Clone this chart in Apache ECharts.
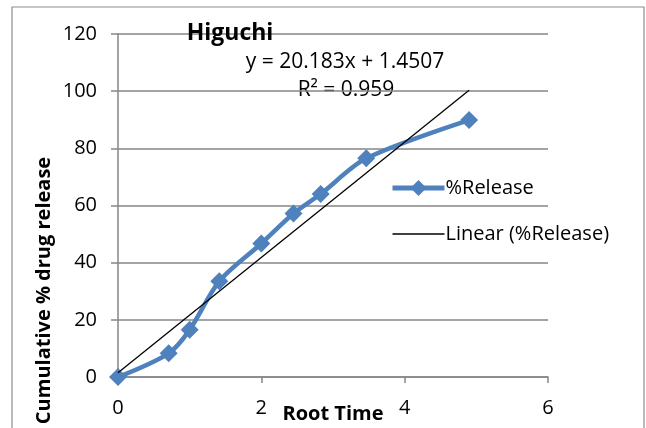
<!DOCTYPE html>
<html><head><meta charset="utf-8">
<script src="https://cdn.jsdelivr.net/npm/echarts@6/dist/echarts.min.js"></script>
<style>html,body{margin:0;padding:0;background:#fff}#c{width:646px;height:428px}</style>
</head><body><div id="c"></div>
<script>
var rootTime = [0, 0.707, 1.0, 1.414, 2.0, 2.449, 2.828, 3.464, 4.899];
var release = [0, 8.3, 16.5, 33.5, 46.7, 57.2, 64.0, 76.5, 89.9];
var slope = 20.183, intercept = 1.4507;
var trendX = [0, 4.899];
var xTicks = [0, 2, 4, 6];
var yTicks = [0, 20, 40, 60, 80, 100, 120];

var FONT = '"Open Sans", Lato, sans-serif';
var chart = echarts.init(document.getElementById('c'));
chart.setOption({
  animation: false,
  backgroundColor: '#fff',
  textStyle: {fontFamily: FONT},
  grid: {left: 118, right: 98, top: 34, bottom: 51, containLabel: false, outerBoundsMode: 'none'},
  title: {text: 'Higuchi', left: 225, top: 17, textAlign: 'center',
    textStyle: {fontFamily: FONT, fontWeight: 'bold', fontSize: 23, color: '#000'}},
  legend: {
    orient: 'vertical', left: 385, top: 173, itemGap: 26,
    itemWidth: 52, itemHeight: 20, symbolKeepAspect: true,
    textStyle: {fontFamily: FONT, fontSize: 20, color: '#000', padding: [0,0,0,-4]},
    data: [
      {name: '%Release', lineStyle: {width: 5, color: '#4F81BD'}},
      {name: 'Linear (%Release)', icon: 'path://M0,0L52,0L52,1.4L0,1.4Z', itemStyle: {color: '#000'}}
    ]
  },
  xAxis: {
    type: 'value', min: xTicks[0], max: xTicks[xTicks.length-1], interval: 2,
    name: 'Root Time', nameLocation: 'middle', nameGap: 27, nameMoveOverlap: false,
    nameTextStyle: {fontFamily: FONT, fontWeight: 'bold', fontSize: 20, color: '#000'},
    axisLine: {lineStyle: {color: '#868686', width: 1.5}},
    axisTick: {show: true, length: 6, lineStyle: {color: '#868686', width: 1.5}},
    axisLabel: {margin: 21, fontFamily: FONT, fontSize: 20, color: '#000'},
    splitLine: {show: false}
  },
  yAxis: {
    type: 'value', min: yTicks[0], max: yTicks[yTicks.length-1], interval: 20,
    name: 'Cumulative % drug release', nameLocation: 'middle', nameGap: 64, nameRotate: 90, nameMoveOverlap: false,
    nameTextStyle: {fontFamily: FONT, fontWeight: 'bold', fontSize: 20, color: '#000', padding: [0,0,0,-170]},
    axisLine: {show: true, lineStyle: {color: '#868686', width: 1.5}},
    axisTick: {show: true, length: 7, lineStyle: {color: '#868686', width: 1.5}},
    axisLabel: {margin: 21, fontFamily: FONT, fontSize: 20, color: '#000'},
    splitLine: {show: true, lineStyle: {color: '#868686', width: 1.5}}
  },
  graphic: [
    {type: 'rect', shape: {x: 12, y: 7, width: 632, height: 430}, style: {fill: 'none', stroke: '#8c8c8c', lineWidth: 1.2}, z: -1},
    {type: 'text', x: 345, y: 62, style: {text: 'y = 20.183x + 1.4507', font: '21px ' + FONT, fill: '#000', align: 'center', verticalAlign: 'middle'}},
    {type: 'text', x: 346, y: 90, style: {text: 'R² = 0.959', font: '21px ' + FONT, fill: '#000', align: 'center', verticalAlign: 'middle'}}
  ],
  series: [
    {
      name: '%Release', type: 'line', smooth: 0.3,
      data: rootTime.map(function(x, i){ return [x, release[i]]; }),
      symbol: 'diamond', symbolSize: 18,
      lineStyle: {color: '#4F81BD', width: 4.5},
      itemStyle: {color: '#4F81BD'},
      z: 3
    },
    {
      name: 'Linear (%Release)', type: 'line', symbol: 'none',
      data: trendX.map(function(x){ return [x, slope*x + intercept]; }),
      lineStyle: {color: '#000', width: 1.3},
      itemStyle: {color: '#000'},
      z: 4
    }
  ]
});
</script></body></html>
